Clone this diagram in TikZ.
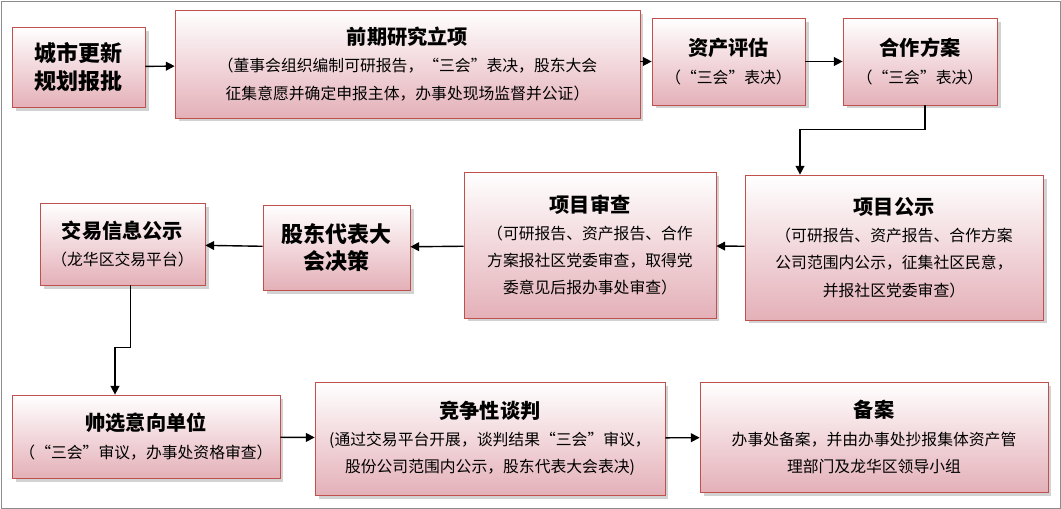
\documentclass[tikz,border=0pt]{standalone}
\usepackage{fontspec}
\setmainfont{Noto Sans CJK SC}
\usetikzlibrary{arrows.meta,shadows,positioning}
\definecolor{boxred}{RGB}{192,80,77}
\definecolor{boxpink}{RGB}{228,176,184}
\tikzset{
	every node/.style={font=\fontsize{9}{15.5}\selectfont},
	stage/.style={draw=boxred,top color=white,bottom color=boxpink,align=center,
		drop shadow={shadow xshift=2pt,shadow yshift=-2pt,fill=black!35}},
	flow/.style={-{Triangle[length=5pt,width=5pt]},thick}
}
\begin{document}
\begin{tikzpicture}[x=0.02cm,y=-0.02cm]
\useasboundingbox (0,0) rectangle (1061,509);
\draw[black!45] (1,1) rectangle (1060,508);
% first row
\node[stage,minimum width=2.66cm,minimum height=1.6cm] (plan) at (78.5,67) {\fontsize{12.5}{17}\selectfont\bfseries 城市更新\\\fontsize{12.5}{17}\selectfont\bfseries 规划报批};
\node[stage,minimum width=9.3cm,minimum height=2.16cm] (study) at (407.5,64) {{\fontsize{11.5}{20}\selectfont\bfseries 前期研究立项}\\（董事会组织编制可研报告，“三会”表决，股东大会\\征集意愿并确定申报主体，办事处现场监督并公证）};
\node[stage,minimum width=3.06cm,minimum height=1.74cm] (assess) at (728.5,61.5) {{\fontsize{11.5}{20}\selectfont\bfseries 资产评估}\\（“三会”表决）};
\node[stage,minimum width=3.08cm,minimum height=1.74cm] (scheme) at (920,61.5) {{\fontsize{11.5}{20}\selectfont\bfseries 合作方案}\\（“三会”表决）};
% second row
\node[stage,minimum width=5.96cm,minimum height=2.9cm] (notice) at (894,247.5) {{\fontsize{11.5}{20}\selectfont\bfseries 项目公示}\\（可研报告、资产报告、合作方案\\公司范围内公示，征集社区民意，\\并报社区党委审查）};
\node[stage,minimum width=5.04cm,minimum height=2.92cm] (review) at (590,245) {{\fontsize{11.5}{20}\selectfont\bfseries 项目审查}\\（可研报告、资产报告、合作\\方案报社区党委审查，取得党\\委意见后报办事处审查）};
\node[stage,minimum width=2.94cm,minimum height=1.7cm] (meeting) at (336.5,247.5) {\fontsize{12.5}{17}\selectfont\bfseries 股东代表大\\\fontsize{12.5}{17}\selectfont\bfseries 会决策};
\node[stage,minimum width=3.3cm,minimum height=1.64cm] (trade) at (122.5,244) {{\fontsize{11.5}{20}\selectfont\bfseries 交易信息公示}\\（龙华区交易平台）};
% third row
\node[stage,minimum width=5.36cm,minimum height=1.66cm] (select) at (146,436.5) {{\fontsize{11.5}{20}\selectfont\bfseries 帅选意向单位}\\（“三会”审议，办事处资格审查）};
\node[stage,minimum width=7cm,minimum height=2.26cm] (talk) at (490,438.5) {{\fontsize{11.5}{20}\selectfont\bfseries 竞争性谈判}\\(通过交易平台开展，谈判结果“三会”审议，\\股份公司范围内公示，股东代表大会表决)};
\node[stage,minimum width=6.96cm,minimum height=2.2cm] (record) at (874,437) {{\fontsize{11.5}{20}\selectfont\bfseries 备案}\\办事处备案，并由办事处抄报集体资产管\\理部门及龙华区领导小组};
% connectors
\draw[flow] (plan) -- (study);
\draw[flow] (study.east |- assess) -- (assess);
\draw[flow] (assess) -- (scheme);
\draw[flow] (scheme.south) ++(5,0) coordinate (s1) -- ++(0,24) -| (notice.north -| 800,0);
\draw[flow] (notice) -- (review);
\draw[flow] (review) -- (meeting);
\draw[flow] (meeting) -- (trade);
\draw[flow] (trade.south) ++(8,0) coordinate (t1) -- ++(0,62) -| (select.north -| 115,0);
\draw[flow] (select) -- (talk);
\draw[flow] (talk) -- (record);
\end{tikzpicture}
\end{document}
